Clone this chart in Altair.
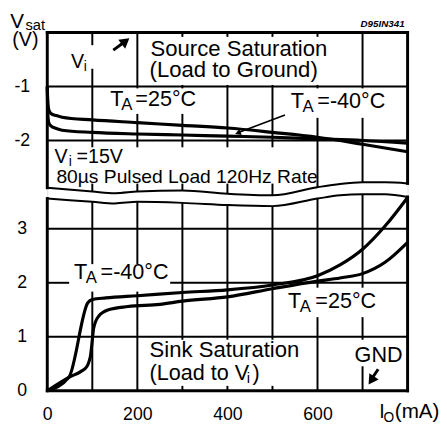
import altair as alt
import pandas as pd

FONT = "Liberation Sans"

# ---------------- data ----------------
# Source saturation (load to ground): Vsat (V) vs IO (mA)
src25_x = [0, 1, 3, 8, 20, 33, 100, 200, 300, 400, 500, 600, 700, 800]
src25_v = [-1.0, -1.25, -1.42, -1.50, -1.54, -1.57, -1.62, -1.67, -1.72, -1.77, -1.85, -1.94, -2.07, -2.21]
srcm40_x = [0, 1, 3, 8, 20, 33, 100, 200, 300, 400, 500, 600, 700, 800]
srcm40_v = [-1.0, -1.45, -1.66, -1.73, -1.78, -1.81, -1.85, -1.88, -1.90, -1.92, -1.94, -1.97, -2.00, -2.05]

# Sink saturation (load to Vi)
snkm40_x = [0, 48, 90, 100, 130, 200, 300, 400, 500, 600, 650, 700, 750, 800]
snkm40_v = [0, 0.25, 1.63, 1.69, 1.72, 1.76, 1.82, 1.87, 1.96, 2.13, 2.33, 2.62, 3.05, 3.58]
snk25_x = [0, 48, 75, 88, 93, 96, 99, 103, 114, 136, 179, 250, 300, 400, 500, 600, 650, 700, 750, 800]
snk25_v = [0, 0.25, 0.36, 0.45, 0.55, 0.65, 0.86, 1.16, 1.38, 1.50, 1.56, 1.60, 1.66, 1.74, 1.89, 2.03, 2.09, 2.17, 2.38, 2.75]

# axis break (two wavy lines) on the lower-panel volt scale
wave_x = [0, 100, 150, 200, 300, 400, 500, 600, 650, 700, 750, 800]
wave_hi = [3.76, 3.69, 3.66, 3.69, 3.71, 3.65, 3.62, 3.77, 3.83, 3.86, 3.86, 3.84]
wave_lo = [3.56, 3.50, 3.47, 3.50, 3.48, 3.44, 3.42, 3.56, 3.62, 3.64, 3.64, 3.59]

x_grid = [100, 200, 300, 400, 500, 600, 700]
x_labels = [0, 200, 400, 600]
y_grid_sink = [1, 2, 3]
y_grid_source = [-1, -2]
y_labels_sink = [0, 1, 2, 3]

# ---------------- layout helpers ----------------
K = 6.636            # offset of the upper (source) panel: 0 V at the top border
W, H = 367, 365
XS = 800 / 367.3


def X(px):
    return (px - 47.7) * XS


def D(py):
    return (394.0 - py) / 55.0


xs = alt.Scale(domain=[0, 800], nice=False, zero=False)
ys = alt.Scale(domain=[0, K], nice=False, zero=False)
ax_x = alt.Axis(values=x_labels, format="d", grid=False,
                ticks=False, tickSize=0, domain=False, labelFont=FONT, labelFontSize=18,
                labelColor="black", labelPadding=15, labelFlush=False, labelOverlap=False, title=None)
y_label_vals = y_labels_sink + [v + K for v in y_grid_source]
ax_y = alt.Axis(values=y_label_vals,
                labelExpr="datum.value > 4 ? '-' + format(%f - datum.value, '.0f') : format(datum.value, '.0f')" % K,
                grid=False, ticks=False, tickSize=0, domain=False, labelFont=FONT, labelFontSize=18,
                labelColor="black", labelAlign="center", labelBaseline="middle", labelPadding=26,
                labelOverlap=False, title=None)
EX = alt.X("x:Q", scale=xs, axis=ax_x)
EY = alt.Y("d:Q", scale=ys, axis=ax_y)

# areas kept clear of grid lines behind the labels (reference pixel boxes)
boxes_px = [(66, 42, 108, 66), (142, 33.5, 366, 82.5), (98, 86, 226, 112), (283, 86, 410, 116),
            (49.5, 146, 319, 183), (70, 265, 173, 293), (286, 289, 396, 319), (144, 342, 319, 389),
            (356, 342, 410, 369)]
boxes = [(X(b[0]), X(b[2]), D(b[3]), D(b[1])) for b in boxes_px]   # x1, x2, dlow, dhigh


def subtract(lo, hi, cuts):
    segs = [(lo, hi)]
    for a, b in cuts:
        nxt = []
        for s, e in segs:
            if b <= s or a >= e:
                nxt.append((s, e))
            else:
                if a > s:
                    nxt.append((s, a))
                if b < e:
                    nxt.append((b, e))
        segs = nxt
    return segs


# grid segments (two points per segment, drawn as lines)
seg_rows = []
frame_rows = []
sid = [0]


def add_seg(target, x1, d1, x2, d2):
    sid[0] += 1
    target.append({"seg": sid[0], "o": 0, "x": float(x1), "d": float(d1)})
    target.append({"seg": sid[0], "o": 1, "x": float(x2), "d": float(d2)})


wl = dict(zip(wave_x, wave_lo))
wh = dict(zip(wave_x, wave_hi))
for g in x_grid:
    cuts = [(b[2], b[3]) for b in boxes if b[0] < g < b[1]]
    for lo, hi in ((0.0, wl[g]), (wh[g], K)):
        for s, e in subtract(lo, hi, cuts):
            add_seg(seg_rows, g, s, g, e)
for h in y_grid_sink + [v + K for v in y_grid_source]:
    cuts = [(b[0], b[1]) for b in boxes if b[2] < h < b[3]]
    for s, e in subtract(0.0, 800.0, cuts):
        add_seg(seg_rows, s, h, e, h)

# frame, interrupted by the axis break
add_seg(frame_rows, 0, 0, 800, 0)
add_seg(frame_rows, 0, K, 800, K)
add_seg(frame_rows, 0, 0, 0, wave_lo[0])
add_seg(frame_rows, 0, wave_hi[0], 0, K)
add_seg(frame_rows, 800, 0, 800, wave_lo[-1])
add_seg(frame_rows, 800, wave_hi[-1], 800, K)

grid_layer = alt.Chart(pd.DataFrame(seg_rows)).mark_line(color="black", strokeWidth=2).encode(
    x=EX, y=EY, detail="seg:N", order="o:Q")
frame_layer = alt.Chart(pd.DataFrame(frame_rows)).mark_line(
    color="black", strokeWidth=3, strokeCap="square").encode(x=EX, y=EY, detail="seg:N", order="o:Q")

wave_layers = []
for arr in (wave_hi, wave_lo):
    wave_layers.append(alt.Chart(pd.DataFrame({"x": wave_x, "d": arr})).mark_line(
        color="black", strokeWidth=2, interpolate="monotone").encode(x=EX, y=EY))

curve_layers = []
for xv, vv, off in ((src25_x, src25_v, K), (srcm40_x, srcm40_v, K),
                    (snkm40_x, snkm40_v, 0), (snk25_x, snk25_v, 0)):
    df = pd.DataFrame({"x": xv, "d": [v + off for v in vv]})
    curve_layers.append(alt.Chart(df).mark_line(color="black", strokeWidth=3.2, interpolate="monotone",
                                                 strokeJoin="round").encode(x=EX, y=EY))

# arrows
rules_px = [(115, 47, 126, 39, 3), (385, 372, 379, 381, 3), (290, 113, 244, 130.5, 1.6)]
rules = pd.DataFrame({"x": [X(r[0]) for r in rules_px], "x2": [X(r[2]) for r in rules_px],
                      "d": [D(r[1]) for r in rules_px], "d2": [D(r[3]) for r in rules_px],
                      "w": [r[4] for r in rules_px]})
rule_layer = alt.Chart(rules).mark_rule(color="black").encode(
    x=EX, x2="x2", y=EY, y2="d2", strokeWidth=alt.StrokeWidth("w:Q", scale=None))
heads_px = [(127.5, 38, 52, 130), (378, 383.5, 214, 130), (242, 131.5, 249, 45)]
heads = pd.DataFrame({"x": [X(h[0]) for h in heads_px], "d": [D(h[1]) for h in heads_px],
                      "a": [h[2] for h in heads_px], "s": [h[3] for h in heads_px]})
head_layer = alt.Chart(heads).mark_point(shape="triangle-up", filled=True, color="black", opacity=1).encode(
    x=EX, y=EY, angle=alt.Angle("a:Q", scale=None), size=alt.Size("s:Q", scale=None))

# texts: (text, left px, baseline px, font size)
texts_px = [
    ("V", 10, 25, 21), ("sat", 25.5, 27, 15), ("(V)", 12, 43, 20),
    ("V", 72, 65, 20), ("i", 85, 68, 14),
    ("Source Saturation", 153, 53, 22.5), ("(Load to Ground)", 152, 74, 22.5),
    ("T", 112, 104, 22), ("A", 123, 108, 17), ("=25°C", 137.5, 104, 22),
    ("T", 296, 106, 22), ("A", 308, 110, 17), ("=-40°C", 323, 106, 22),
    ("V", 55, 162, 20), ("i", 69.5, 165, 14), ("=15V", 77.5, 162, 20),
    ("80µs Pulsed Load 120Hz Rate", 57, 182, 19.6),
    ("T", 75, 280, 22), ("A", 87, 284, 17), ("=-40°C", 102, 280, 22),
    ("T", 293, 310, 22), ("A", 305, 314, 17), ("=25°C", 321, 310, 22),
    ("Sink Saturation", 152, 360, 22.5), ("(Load to V", 152, 383, 22), ("i", 251, 386, 15), (")", 257, 383, 22),
    ("GND", 361, 365, 22),
    ("I", 386, 422, 20), ("O", 390.5, 426, 14), ("(mA)", 402, 422, 21),
]
texts = pd.DataFrame({"x": [X(t[1]) for t in texts_px], "d": [D(t[2]) for t in texts_px],
                      "t": [t[0] for t in texts_px], "fs": [t[3] for t in texts_px]})
text_layer = alt.Chart(texts).mark_text(align="left", baseline="alphabetic", font=FONT, color="black").encode(
    x=EX, y=EY, text="t:N", size=alt.Size("fs:Q", scale=None))

code = pd.DataFrame({"x": [X(412)], "d": [D(23)], "t": ["D95IN341"]})
code_layer = alt.Chart(code).mark_text(align="right", baseline="alphabetic", font=FONT, fontSize=10,
                                       fontStyle="italic", fontWeight="bold", color="black").encode(
    x=EX, y=EY, text="t:N")

chart = alt.layer(frame_layer, grid_layer, *wave_layers, *curve_layers, rule_layer,
                  head_layer, text_layer, code_layer).properties(
    width=W, height=H,
    padding={"left": 40, "top": 21, "right": 32, "bottom": 34},
    autosize=alt.AutoSizeParams(type="none"),
).configure_view(stroke=None).configure(background="white")

chart.save("out.html", embed_options={"renderer": "svg", "actions": False})
